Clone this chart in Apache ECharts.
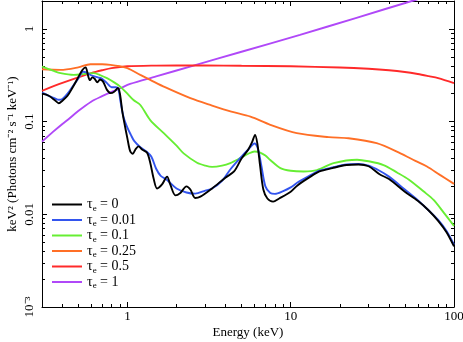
<!DOCTYPE html>
<html><head><meta charset="utf-8">
<script src="https://cdn.jsdelivr.net/npm/echarts@6/dist/echarts.min.js"></script>
<style>html,body{margin:0;padding:0;background:#fff}#c{width:463px;height:342px}</style>
</head><body><div id="c"></div>
<script>
// ---- data ----
const seriesNames = ['0', '0.01', '0.1', '0.25', '0.5', '1'];

const energyTau0 = [0.30,0.33,0.36,0.38,0.40,0.43,0.46,0.50,0.53,0.555,0.575,0.59,0.61,0.63,0.655,0.68,0.71,0.75,0.79,0.83,0.875,0.90,0.93,0.96,1.0,1.04,1.08,1.12,1.17,1.23,1.32,1.38,1.45,1.52,1.63,1.75,1.83,1.97,2.11,2.3,2.43,2.6,2.8,3.3,4.0,4.5,5.0,5.5,5.8,6.05,6.25,6.5,6.8,7.2,7.8,8.5,10,11,13,15,18,22,26,30,35,40,50,60,70,80,90,100];
const fluxTau0   = [0.20,0.19,0.17,0.158,0.168,0.19,0.23,0.30,0.36,0.385,0.31,0.28,0.30,0.29,0.265,0.285,0.27,0.22,0.203,0.21,0.23,0.20,0.13,0.095,0.066,0.048,0.045,0.05,0.054,0.05,0.046,0.036,0.024,0.019,0.021,0.0255,0.021,0.016,0.017,0.020,0.0185,0.015,0.0155,0.019,0.025,0.029,0.040,0.050,0.060,0.072,0.058,0.033,0.0185,0.0148,0.0137,0.0148,0.0175,0.0205,0.025,0.029,0.0315,0.034,0.0345,0.033,0.027,0.024,0.0175,0.014,0.011,0.0085,0.0064,0.0045];

const energyTau001 = [0.30,0.33,0.36,0.38,0.40,0.43,0.47,0.50,0.535,0.56,0.59,0.62,0.66,0.70,0.75,0.80,0.85,0.88,0.91,0.95,1.0,1.05,1.1,1.2,1.3,1.4,1.5,1.6,1.75,2.0,2.3,2.6,3.0,3.3,3.8,4.3,5.0,5.5,6.0,6.3,6.6,7.0,7.5,8.0,9.0,10,11,13,15,18,22,26,30,35,40,50,60,70,80,90,100];
const fluxTau001   = [0.205,0.19,0.178,0.172,0.175,0.20,0.25,0.29,0.345,0.34,0.32,0.31,0.30,0.29,0.26,0.235,0.235,0.225,0.16,0.11,0.086,0.072,0.062,0.053,0.048,0.042,0.031,0.026,0.0235,0.019,0.0172,0.0167,0.018,0.019,0.023,0.031,0.042,0.05,0.058,0.051,0.034,0.02,0.017,0.0166,0.0178,0.0195,0.022,0.026,0.0295,0.032,0.0345,0.035,0.0335,0.0295,0.0255,0.0185,0.0142,0.011,0.0087,0.0066,0.0047];

const energyTau01 = [0.30,0.35,0.39,0.47,0.55,0.62,0.68,0.75,0.83,0.9,1.0,1.09,1.2,1.38,1.67,2.0,2.21,2.67,3.0,3.3,3.8,4.27,4.9,5.5,6.0,6.5,7.0,7.5,8.65,10,12,14.5,18.3,25.5,30,37,45,53,65,75,87,100];
const fluxTau01   = [0.392,0.355,0.333,0.319,0.327,0.333,0.318,0.294,0.265,0.24,0.2,0.171,0.151,0.104,0.075,0.055,0.0454,0.036,0.0335,0.0325,0.0335,0.0357,0.0403,0.045,0.0476,0.0464,0.043,0.0385,0.0315,0.0295,0.029,0.030,0.0356,0.0388,0.0373,0.034,0.0281,0.0236,0.0177,0.0143,0.0103,0.0075];

const energyTau025 = [0.30,0.39,0.5,0.594,0.7,0.787,0.9,1.0,1.2,1.38,1.7,2.43,3.3,4.33,5.67,7.5,10.9,17.1,22.6,33.6,47,58,68.3,82,100];
const fluxTau025   = [0.367,0.361,0.385,0.416,0.415,0.409,0.395,0.377,0.319,0.282,0.235,0.179,0.149,0.128,0.113,0.0924,0.075,0.068,0.0662,0.0585,0.0455,0.0377,0.0328,0.0266,0.0213];

const energyTau05 = [0.30,0.4,0.5,0.6,0.7,0.8,1.0,1.5,2,3,5,10,20,30,40,50,60,70,80,100];
const fluxTau05   = [0.215,0.261,0.30,0.333,0.358,0.378,0.395,0.402,0.403,0.403,0.40,0.395,0.383,0.371,0.358,0.343,0.326,0.309,0.294,0.26];

const energyTau1 = [0.30,0.35,0.4,0.43,0.5,0.6,0.7,0.8,0.9,1.04,1.5,2.54,5,11.4,25,57.7,70];
const fluxTau1   = [0.0608,0.0775,0.0944,0.104,0.13,0.164,0.188,0.209,0.228,0.255,0.307,0.402,0.567,0.862,1.31,2.05,2.25];

const xMajorTicks = [1, 10, 100];
const xMinorTicks = [0.3,0.4,0.5,0.6,0.7,0.8,0.9,2,3,4,5,6,7,8,9,20,30,40,50,60,70,80,90];
const xTickLabels = ['1', '10', '100'];
const yMajorTicks = [0.001, 0.01, 0.1, 1];
const yMinorTicks = [0.002,0.003,0.004,0.005,0.006,0.007,0.008,0.009,0.02,0.03,0.04,0.05,0.06,0.07,0.08,0.09,0.2,0.3,0.4,0.5,0.6,0.7,0.8,0.9,2];
const yTickLabels = ['10\u207B\u00B3', '0.01', '0.1', '1'];

// ---- chart ----
const FONT = 'Liberation Serif';
const colors = ['#000000', '#3355ee', '#66ee33', '#ff6f26', '#ff2a2a', '#b048f8'];
const energies = [energyTau0, energyTau001, energyTau01, energyTau025, energyTau05, energyTau1];
const fluxes = [fluxTau0, fluxTau001, fluxTau01, fluxTau025, fluxTau05, fluxTau1];

function labelFor(ticks, labels) {
  return function (v) {
    for (let i = 0; i < ticks.length; i++) {
      if (Math.abs(Math.log10(v) - Math.log10(ticks[i])) < 1e-6) return labels[i];
    }
    return '';
  };
}

function mkAxis(kind, pos, ticks, len, showLine, labels, extra) {
  const isX = kind === 'x';
  const a = {
    type: 'log', logBase: 10,
    min: isX ? 0.3 : 0.001, max: isX ? 100 : 2,
    position: pos,
    axisLine: { show: showLine, onZero: false, lineStyle: { color: '#000', width: 1 } },
    axisTick: { show: true, inside: true, length: len, customValues: ticks, lineStyle: { color: '#000', width: 1 } },
    axisLabel: labels ? {
      show: true, customValues: ticks, formatter: labelFor(ticks, labels),
      color: '#000', fontFamily: FONT, fontSize: 13,
      margin: isX ? 3 : 6, rotate: isX ? 0 : 90, hideOverlap: false
    } : { show: false },
    splitLine: { show: false }, minorTick: { show: false }, minorSplitLine: { show: false }
  };
  return Object.assign(a, extra || {});
}

const xName = { name: 'Energy (keV)', nameLocation: 'middle', nameGap: 19, nameMoveOverlap: false,
  nameTextStyle: { color: '#000', fontFamily: FONT, fontSize: 13 } };
const yName = { name: 'keV\u00B2 (Photons cm\u207B\u00B2 s\u207B\u00B9 keV\u207B\u00B9)', nameLocation: 'middle', nameGap: 23,
  nameRotate: 90, nameMoveOverlap: false,
  nameTextStyle: { color: '#000', fontFamily: FONT, fontSize: 13 } };

const legendNames = seriesNames.map(v => '\u03C4e = ' + v);

const series = [];
for (let k = seriesNames.length - 1; k >= 0; k--) {
  series.push({
    name: legendNames[k], type: 'line', xAxisIndex: 0, yAxisIndex: 0,
    data: energies[k].map((e, i) => [e, fluxes[k][i]]),
    symbol: 'none', showSymbol: false, smooth: 0.3,
    lineStyle: { color: colors[k], width: 1.9 }, itemStyle: { color: colors[k] },
    z: 10 + (seriesNames.length - k), animation: false, silent: true
  });
}

const chart = echarts.init(document.getElementById('c'), null, { renderer: 'canvas' });
chart.setOption({
  animation: false,
  backgroundColor: '#fff',
  grid: { left: 42, right: 9, top: 1, bottom: 35, containLabel: false, outerBoundsMode: 'none' },
  xAxis: [
    mkAxis('x', 'bottom', xMajorTicks, 5, true, xTickLabels, xName),
    mkAxis('x', 'bottom', xMinorTicks, 3, false, null),
    mkAxis('x', 'top', xMajorTicks, 5, true, null),
    mkAxis('x', 'top', xMinorTicks, 3, false, null)
  ],
  yAxis: [
    mkAxis('y', 'left', yMajorTicks, 5, true, yTickLabels, yName),
    mkAxis('y', 'left', yMinorTicks, 3, false, null),
    mkAxis('y', 'right', yMajorTicks, 5, true, null),
    mkAxis('y', 'right', yMinorTicks, 3, false, null)
  ],
  legend: {
    orient: 'vertical', left: 52, top: 197.5, padding: 0,
    icon: 'rect', itemWidth: 30, itemHeight: 2, itemGap: 0, selectedMode: false,
    data: legendNames,
    formatter: function (name) {
      const v = name.split('= ')[1];
      return '{t|\u03C4}{s|e}{t| = ' + v + '}';
    },
    textStyle: {
      color: '#000', fontFamily: FONT, fontSize: 14,
      rich: {
        t: { fontFamily: FONT, fontSize: 14, lineHeight: 14, color: '#000' },
        s: { fontFamily: FONT, fontSize: 9, lineHeight: 17, verticalAlign: 'bottom', color: '#000' }
      }
    }
  },
  series: series
});
</script>
</body></html>
